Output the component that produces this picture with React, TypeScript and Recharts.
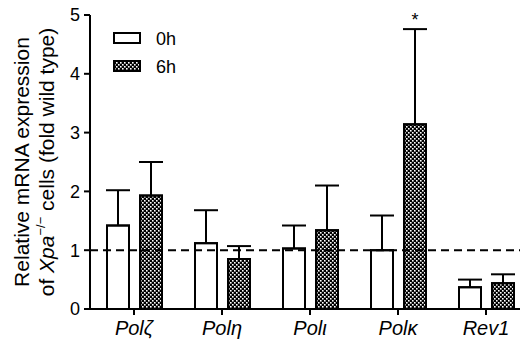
import React from 'react';
import { BarChart, Bar, XAxis, YAxis, ErrorBar, ReferenceLine, Legend, LabelList, Label } from 'recharts';

const categories = ['Polζ', 'Polη', 'Polι', 'Polκ', 'Rev1'];
const mean0h = [1.42, 1.12, 1.03, 1.0, 0.37];
const sem0h = [0.6, 0.56, 0.39, 0.59, 0.13];
const mean6h = [1.93, 0.85, 1.34, 3.14, 0.44];
const sem6h = [0.57, 0.22, 0.76, 1.62, 0.15];
const marks6h = ['', '', '', '*', ''];
const yTicks = [0, 1, 2, 3, 4, 5];
const seriesNames = ['0h', '6h'];
const baselineValue = 1;

const data = categories.map((c, i) => ({
  cat: c,
  h0: mean0h[i],
  e0: [0, sem0h[i]],
  h6: mean6h[i],
  e6: [0, sem6h[i]],
  mark: marks6h[i],
}));

const FONT = '"Liberation Sans", Arial, sans-serif';

const renderMark = (props: any) => {
  const { value, index } = props;
  if (!value) return null;
  const vb = props.viewBox && props.viewBox.width !== undefined ? props.viewBox : props;
  const x = Number(vb.x), y = Number(vb.y), w = Number(vb.width), h = Number(vb.height);
  const pxPerUnit = h / mean6h[index];
  const top = y - sem6h[index] * pxPerUnit;
  return (
    <text x={x + w / 2} y={top - 3} textAnchor="middle" fontSize={18} fontFamily={FONT} fill="#000">
      {value}
    </text>
  );
};

const renderYLabel = (props: any) => {
  const vb = props.viewBox;
  const cy = vb.y + vb.height / 2;
  const x1 = vb.x + 29;
  const x2 = vb.x + 54;
  return (
    <g fontFamily={FONT} fontSize={21} fill="#000">
      <text x={x1} y={cy} transform={`rotate(-90 ${x1} ${cy})`} textAnchor="middle">
        Relative mRNA expression
      </text>
      <text x={x2} y={cy} transform={`rotate(-90 ${x2} ${cy})`} textAnchor="middle">
        of <tspan fontStyle="italic">Xpa</tspan>
        <tspan fontSize={13} dy={-9}>−/−</tspan>
        <tspan dy={9}> cells (fold wild type)</tspan>
      </text>
    </g>
  );
};

const renderLegend = () => (
  <svg width={90} height={50} style={{ display: 'block' }}>
    <rect x={2} y={3} width={26} height={10} fill="#fff" stroke="#000" strokeWidth={2} />
    <text x={44} y={8.5} dominantBaseline="central" fontFamily={FONT} fontSize={18} fill="#000">
      {seriesNames[0]}
    </text>
    <rect x={2} y={31} width={26} height={10} fill="url(#checker)" stroke="#000" strokeWidth={2} />
    <text x={44} y={37} dominantBaseline="central" fontFamily={FONT} fontSize={18} fill="#000">
      {seriesNames[1]}
    </text>
  </svg>
);

const XTick = (props: any) => {
  const { x, y, payload } = props;
  return (
    <text x={x} y={y} dy={20} textAnchor="middle" fontFamily={FONT} fontSize={20} fontStyle="italic" fill="#000">
      {payload.value}
    </text>
  );
};

export default function App() {
  return (
    <div style={{ position: 'absolute', left: 0, top: 0, width: 520, height: 340, overflow: 'hidden', background: '#fff' }}>
      <BarChart
        width={530}
        height={340}
        data={data}
        margin={{ top: 15, right: 0, bottom: 7, left: 0 }}
        barSize={22}
        barGap={11}
      >
        <defs>
          <pattern id="checker" width="4" height="4" patternUnits="userSpaceOnUse">
            <rect x="0" y="0" width="4" height="4" fill="#000" />
            <rect x="0" y="0" width="1.6" height="1.6" fill="#fff" />
            <rect x="2" y="2" width="1.6" height="1.6" fill="#fff" />
          </pattern>
        </defs>
        <XAxis
          dataKey="cat"
          height={24}
          axisLine={{ stroke: '#000', strokeWidth: 2 }}
          tickLine={{ stroke: '#000', strokeWidth: 2 }}
          tickSize={6}
          tickMargin={0}
          tick={<XTick />}
          interval={0}
        />
        <YAxis
          width={90}
          domain={[0, 5]}
          ticks={yTicks}
          interval={0}
          axisLine={{ stroke: '#000', strokeWidth: 2 }}
          tickLine={{ stroke: '#000', strokeWidth: 2 }}
          tickSize={6}
          tickMargin={4}
          tick={{ fill: '#000', fontSize: 18, fontFamily: FONT }}
        >
          <Label content={renderYLabel} />
        </YAxis>
        <Legend
          content={renderLegend}
          layout="horizontal"
          verticalAlign="middle"
          align="center"
          wrapperStyle={{ position: 'absolute', left: 112, top: 30, width: 90, height: 50 }}
        />
        <Bar dataKey="h0" name={seriesNames[0]} fill="#fff" stroke="#000" strokeWidth={2} isAnimationActive={false}>
          <ErrorBar dataKey="e0" width={12} stroke="#000" strokeWidth={2} direction="y" />
        </Bar>
        <Bar dataKey="h6" name={seriesNames[1]} fill="url(#checker)" stroke="#000" strokeWidth={2} isAnimationActive={false}>
          <ErrorBar dataKey="e6" width={12} stroke="#000" strokeWidth={2} direction="y" />
          <LabelList dataKey="mark" content={renderMark} />
        </Bar>
        <ReferenceLine y={baselineValue} stroke="#000" strokeWidth={2} strokeDasharray="8 5" />
      </BarChart>
    </div>
  );
}
